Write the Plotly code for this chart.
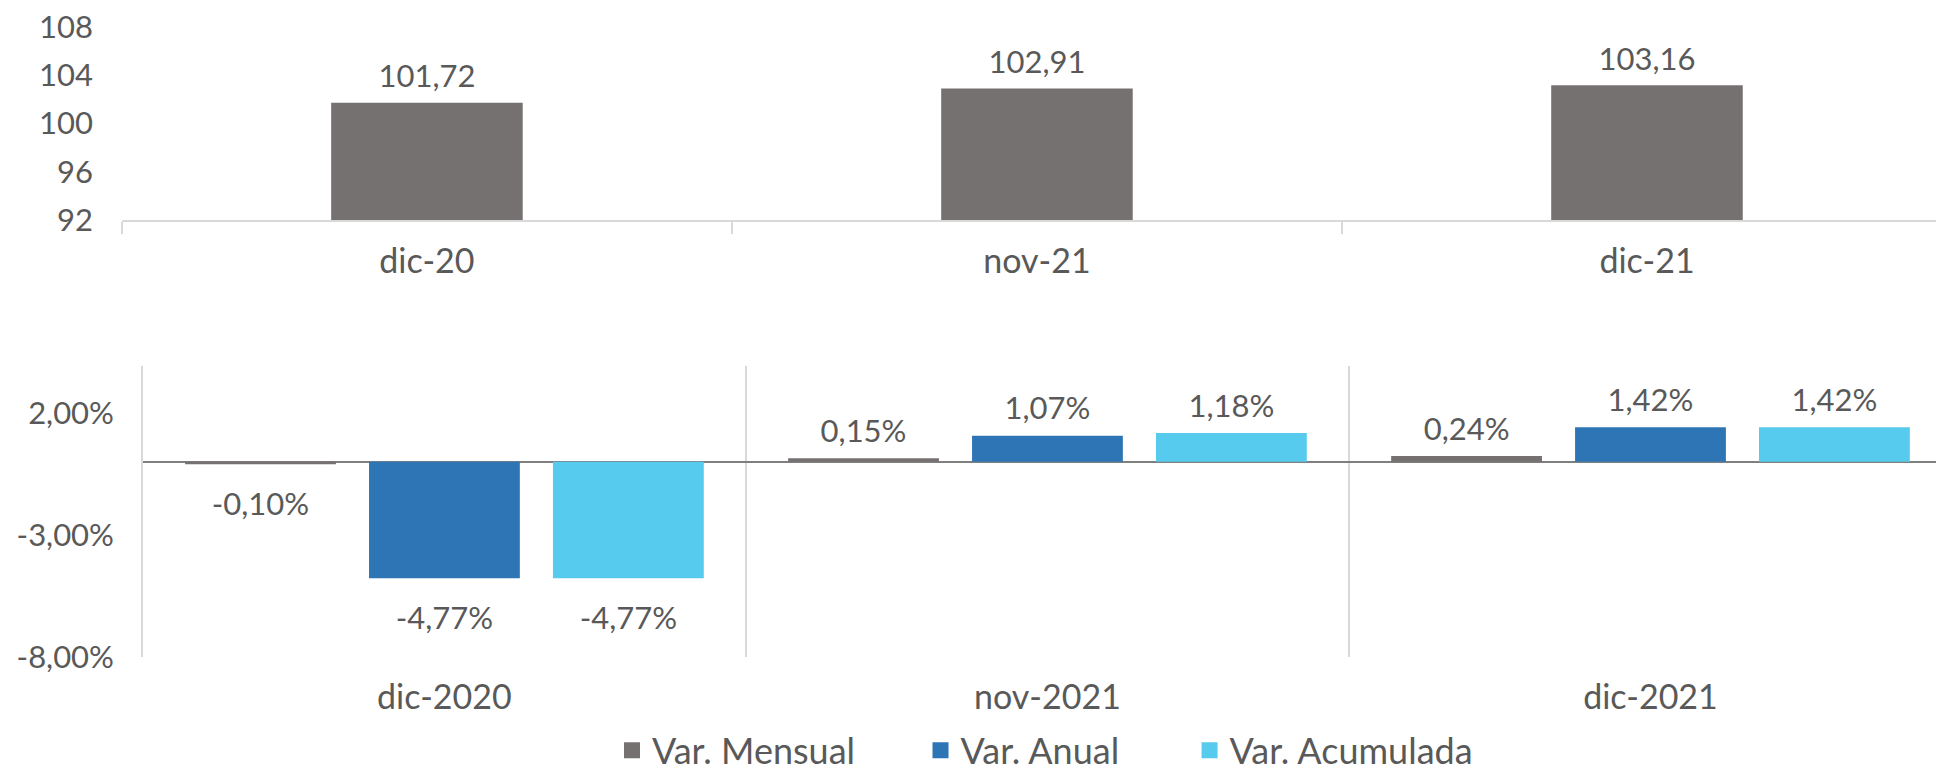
import plotly.graph_objects as go

# ---- data ----
idx_categories = ["dic-20", "nov-21", "dic-21"]
idx_values = [101.72, 102.91, 103.16]

var_categories = ["dic-2020", "nov-2021", "dic-2021"]
var_mensual = [-0.10, 0.15, 0.24]
var_anual = [-4.77, 1.07, 1.42]
var_acumulada = [-4.77, 1.18, 1.42]

idx_ticks = [92, 96, 100, 104, 108]
var_ticks = [-8, -3, 2]
var_ticklabels = ["-8,00%", "-3,00%", "2,00%"]

series_names = ["Var. Mensual", "Var. Anual", "Var. Acumulada"]

# ---- style ----
FONT = "Lato"
TXT = "#595959"
FS_NUM = 31
FS_CAT = 34
FS_LEG = 36
C_GRAY = "#767171"
C_BLUE = "#2E75B6"
C_LIGHT = "#56CBEE"
BARGAP = 0.085
GROUPGAP = 0.18
CLEAR = "rgba(0,0,0,0)"

fig = go.Figure()

fig.add_trace(go.Bar(
    x=idx_categories, y=idx_values, xaxis="x", yaxis="y",
    marker=dict(color=C_GRAY, line=dict(width=0)),
    cliponaxis=False, showlegend=False, width=0.314, hoverinfo="skip",
))
# value labels of the index chart (invisible marker used as label offset)
fig.add_trace(go.Scatter(
    x=idx_categories, y=idx_values, xaxis="x", yaxis="y",
    mode="markers+text", texttemplate="%{y:.2f}", textposition="top center",
    marker=dict(size=11, color=CLEAR, line=dict(width=0, color=CLEAR)),
    textfont=dict(size=FS_NUM, color=TXT, family=FONT),
    cliponaxis=False, showlegend=False, hoverinfo="skip",
))

series_vals = [var_mensual, var_anual, var_acumulada]
series_cols = [C_GRAY, C_BLUE, C_LIGHT]
for name, vals, col in zip(series_names, series_vals, series_cols):
    fig.add_trace(go.Bar(
        x=var_categories, y=vals, name=name, xaxis="x2", yaxis="y2",
        marker=dict(color=col, line=dict(width=0)),
        cliponaxis=False, offsetgroup=name, showlegend=False,
        hoverinfo="skip",
    ))
for name, vals in zip(series_names, series_vals):
    fig.add_trace(go.Scatter(
        x=var_categories, y=vals, xaxis="x2", yaxis="y2",
        mode="markers+text", texttemplate="%{y:.2f}%",
        textposition=["top center" if v >= 0 else "bottom center" for v in vals],
        marker=dict(size=[12 if v >= 0 else 42 for v in vals],
                    color=CLEAR, line=dict(width=0, color=CLEAR)),
        textfont=dict(size=FS_NUM, color=TXT, family=FONT),
        offsetgroup=name, cliponaxis=False, showlegend=False,
        hoverinfo="skip",
    ))

# legend entries (one legend per entry so they can be placed like the original)
legend_ids = ["legend", "legend2", "legend3"]
for name, col, lg in zip(series_names, series_cols, legend_ids):
    fig.add_trace(go.Scatter(
        x=[None], y=[None], mode="markers", name=name, legend=lg,
        xaxis="x2", yaxis="y2",
        marker=dict(symbol="square", size=16, color=col, line=dict(width=0)),
        showlegend=True,
    ))

leg_common = dict(orientation="h", xanchor="left", y=0.037, yanchor="middle",
                  font=dict(size=FS_LEG, color=TXT, family=FONT),
                  itemsizing="trace", bgcolor="rgba(0,0,0,0)")

fig.update_layout(
    width=1944, height=771,
    template="none",
    margin=dict(l=0, r=0, t=0, b=0, autoexpand=False),
    paper_bgcolor="white", plot_bgcolor="white",
    font=dict(family=FONT, size=FS_NUM, color=TXT),
    separators=",.",
    barmode="group", scattermode="group",
    bargap=BARGAP, bargroupgap=GROUPGAP, scattergap=BARGAP,
    xaxis=dict(domain=[0.0586, 1.0], anchor="y", type="category",
               automargin=False,
               tickson="boundaries", ticks="outside", ticklen=12,
               tickcolor="#D9D9D9", tickwidth=1.5, showgrid=False,
               showline=True, linecolor="#D9D9D9", linewidth=1.5,
               ticklabelstandoff=10, zeroline=False,
               tickfont=dict(size=FS_CAT, color=TXT)),
    yaxis=dict(domain=[0.725, 0.9754], anchor="x", range=[92, 108],
               automargin=False, ticklabeloverflow="allow",
               tickvals=idx_ticks, showgrid=False, zeroline=False,
               showline=False, ticks="", ticklabelstandoff=28,
               tickfont=dict(size=FS_NUM, color=TXT)),
    xaxis2=dict(domain=[0.0694, 1.0], anchor="y2", type="category",
                automargin=False,
                tickson="boundaries", ticks="", showgrid=True,
                gridcolor="#D9D9D9", gridwidth=1.5, showline=False,
                zeroline=False, ticklabelstandoff=17,
                tickfont=dict(size=FS_CAT, color=TXT)),
    yaxis2=dict(domain=[0.1582, 0.5357], anchor="x2", range=[-8, 3.93],
                automargin=False,
                tickvals=var_ticks, ticktext=var_ticklabels,
                showgrid=False, zeroline=True, zerolinecolor="#7F7F7F",
                zerolinewidth=1.5, showline=True, linecolor="#D9D9D9",
                linewidth=1.5, ticks="", ticklabelstandoff=21,
                layer="above traces",
                tickfont=dict(size=FS_NUM, color=TXT)),
    legend=dict(x=0.3107, **leg_common),
    legend2=dict(x=0.4694, **leg_common),
    legend3=dict(x=0.6078, **leg_common),
)

fig.write_html("out.html")
